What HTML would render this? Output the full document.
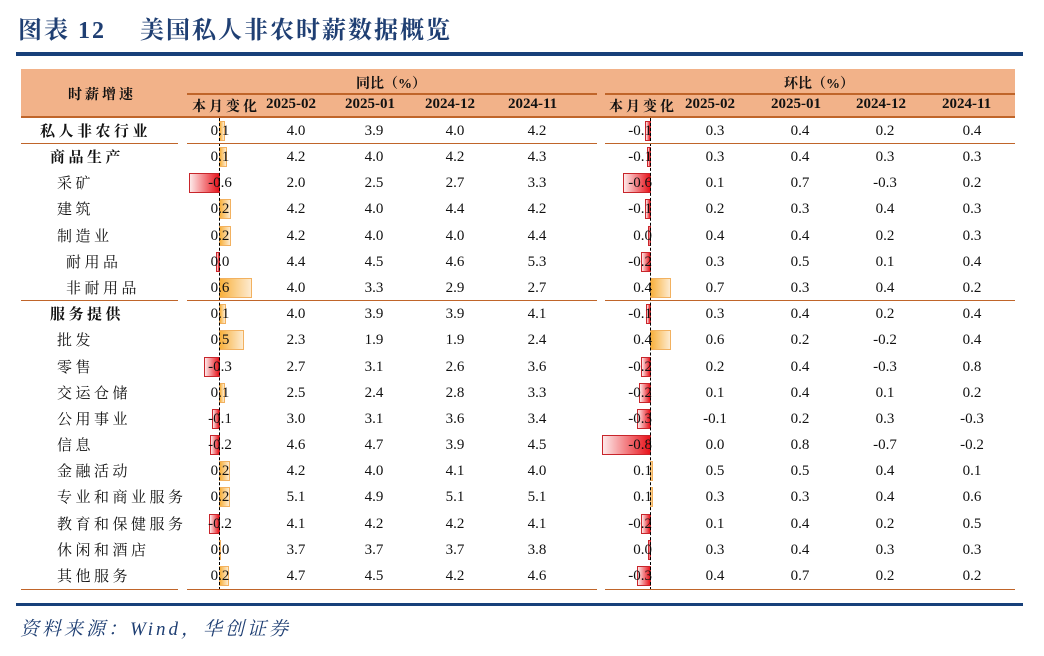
<!DOCTYPE html>
<html><head><meta charset="utf-8"><style>
*{margin:0;padding:0;box-sizing:border-box}
body{width:1044px;height:656px;background:#fff;position:relative;overflow:hidden;font-family:"Liberation Serif","Noto Serif CJK SC",serif;color:#111}
.a{position:absolute}
.title{left:18px;top:10px;font-size:24px;font-weight:bold;color:#1F3F73;font-family:"Liberation Serif","Noto Serif CJK SC",serif;letter-spacing:2px}
.hd{font-weight:bold;font-size:14px;font-family:"Liberation Serif","Noto Serif CJK SC",serif}
.sp{letter-spacing:3px}
.r{position:absolute;left:0;width:1044px;height:26px;line-height:26px;font-size:15px}
.r span{position:absolute;top:0;text-align:center;width:80px}
.c1{left:180px}.c2{left:256px}.c3{left:334px}.c4{left:415px}.c5{left:497px}
.m1{left:572px;text-align:right!important}.m2{left:675px}.m3{left:760px}.m4{left:845px}.m5{left:932px}
.r span.lb{text-align:left;width:200px;font-family:"Noto Serif CJK SC",serif;letter-spacing:3.5px}
.b{position:absolute;top:3px;height:20px}
.p{background:linear-gradient(to right,#F8B03C,#FDEBD0);border:1px solid #F2B160}
.n{background:linear-gradient(to right,#FDE9E9,#E8121A);border:1px solid #C8252B}
.ln{position:absolute;height:1px;background:#C0652A}
.dz{position:absolute;top:118px;height:472px;border-left:1.5px dashed #000}
</style></head><body>
<div class="a title">图表 12　 美国私人非农时薪数据概览</div>
<div class="a" style="left:16px;top:52px;width:1007px;height:4px;background:#17407A"></div>
<div class="a" style="left:21px;top:69px;width:994px;height:48px;background:#F2B289"></div>
<div class="ln" style="left:187px;top:93px;width:410px;height:2px"></div>
<div class="ln" style="left:605px;top:93px;width:410px;height:2px"></div>
<div class="ln" style="left:21px;top:116px;width:994px;height:2px"></div>
<div class="a hd sp" style="left:68px;top:84px">时薪增速</div>
<div class="a hd" style="left:356px;top:73px">同比（%）</div>
<div class="a hd" style="left:784px;top:73px">环比（%）</div>
<div class="a hd sp" style="left:192px;top:96px">本月变化</div>
<div class="a hd sp" style="left:609px;top:96px">本月变化</div>
<div class="a hd" style="left:266px;top:96px;font-family:'Liberation Serif',serif;font-size:15px">2025-02</div>
<div class="a hd" style="left:345px;top:96px;font-family:'Liberation Serif',serif;font-size:15px">2025-01</div>
<div class="a hd" style="left:425px;top:96px;font-family:'Liberation Serif',serif;font-size:15px">2024-12</div>
<div class="a hd" style="left:508px;top:96px;font-family:'Liberation Serif',serif;font-size:15px">2024-11</div>
<div class="a hd" style="left:685px;top:96px;font-family:'Liberation Serif',serif;font-size:15px">2025-02</div>
<div class="a hd" style="left:771px;top:96px;font-family:'Liberation Serif',serif;font-size:15px">2025-01</div>
<div class="a hd" style="left:856px;top:96px;font-family:'Liberation Serif',serif;font-size:15px">2024-12</div>
<div class="a hd" style="left:942px;top:96px;font-family:'Liberation Serif',serif;font-size:15px">2024-11</div>

<div class="r" style="top:118px"><div class="b p" style="left:219px;width:6px"></div><div class="b n" style="left:645px;width:6px"></div><span class="lb" style="left:40px;font-weight:bold">私人非农行业</span><span class="c1">0.1</span><span class="c2">4.0</span><span class="c3">3.9</span><span class="c4">4.0</span><span class="c5">4.2</span><span class="m1">-0.1</span><span class="m2">0.3</span><span class="m3">0.4</span><span class="m4">0.2</span><span class="m5">0.4</span></div>
<div class="r" style="top:144px"><div class="b p" style="left:219px;width:8px"></div><div class="b n" style="left:647px;width:4px"></div><span class="lb" style="left:50px;font-weight:bold">商品生产</span><span class="c1">0.1</span><span class="c2">4.2</span><span class="c3">4.0</span><span class="c4">4.2</span><span class="c5">4.3</span><span class="m1">-0.1</span><span class="m2">0.3</span><span class="m3">0.4</span><span class="m4">0.3</span><span class="m5">0.3</span></div>
<div class="r" style="top:170px"><div class="b n" style="left:189px;width:31px"></div><div class="b n" style="left:623px;width:28px"></div><span class="lb" style="left:57px">采矿</span><span class="c1">-0.6</span><span class="c2">2.0</span><span class="c3">2.5</span><span class="c4">2.7</span><span class="c5">3.3</span><span class="m1">-0.6</span><span class="m2">0.1</span><span class="m3">0.7</span><span class="m4">-0.3</span><span class="m5">0.2</span></div>
<div class="r" style="top:196px"><div class="b p" style="left:219px;width:12px"></div><div class="b n" style="left:645px;width:6px"></div><span class="lb" style="left:57px">建筑</span><span class="c1">0.2</span><span class="c2">4.2</span><span class="c3">4.0</span><span class="c4">4.4</span><span class="c5">4.2</span><span class="m1">-0.1</span><span class="m2">0.2</span><span class="m3">0.3</span><span class="m4">0.4</span><span class="m5">0.3</span></div>
<div class="r" style="top:223px"><div class="b p" style="left:219px;width:12px"></div><div class="b n" style="left:648px;width:3px"></div><span class="lb" style="left:57px">制造业</span><span class="c1">0.2</span><span class="c2">4.2</span><span class="c3">4.0</span><span class="c4">4.0</span><span class="c5">4.4</span><span class="m1">0.0</span><span class="m2">0.4</span><span class="m3">0.4</span><span class="m4">0.2</span><span class="m5">0.3</span></div>
<div class="r" style="top:249px"><div class="b n" style="left:216px;width:4px"></div><div class="b n" style="left:641px;width:10px"></div><span class="lb" style="left:66px">耐用品</span><span class="c1">0.0</span><span class="c2">4.4</span><span class="c3">4.5</span><span class="c4">4.6</span><span class="c5">5.3</span><span class="m1">-0.2</span><span class="m2">0.3</span><span class="m3">0.5</span><span class="m4">0.1</span><span class="m5">0.4</span></div>
<div class="r" style="top:275px"><div class="b p" style="left:219px;width:33px"></div><div class="b p" style="left:650px;width:21px"></div><span class="lb" style="left:66px">非耐用品</span><span class="c1">0.6</span><span class="c2">4.0</span><span class="c3">3.3</span><span class="c4">2.9</span><span class="c5">2.7</span><span class="m1">0.4</span><span class="m2">0.7</span><span class="m3">0.3</span><span class="m4">0.4</span><span class="m5">0.2</span></div>
<div class="r" style="top:301px"><div class="b p" style="left:219px;width:7px"></div><div class="b n" style="left:646px;width:5px"></div><span class="lb" style="left:50px;font-weight:bold">服务提供</span><span class="c1">0.1</span><span class="c2">4.0</span><span class="c3">3.9</span><span class="c4">3.9</span><span class="c5">4.1</span><span class="m1">-0.1</span><span class="m2">0.3</span><span class="m3">0.4</span><span class="m4">0.2</span><span class="m5">0.4</span></div>
<div class="r" style="top:327px"><div class="b p" style="left:219px;width:25px"></div><div class="b p" style="left:650px;width:21px"></div><span class="lb" style="left:57px">批发</span><span class="c1">0.5</span><span class="c2">2.3</span><span class="c3">1.9</span><span class="c4">1.9</span><span class="c5">2.4</span><span class="m1">0.4</span><span class="m2">0.6</span><span class="m3">0.2</span><span class="m4">-0.2</span><span class="m5">0.4</span></div>
<div class="r" style="top:354px"><div class="b n" style="left:204px;width:16px"></div><div class="b n" style="left:641px;width:10px"></div><span class="lb" style="left:57px">零售</span><span class="c1">-0.3</span><span class="c2">2.7</span><span class="c3">3.1</span><span class="c4">2.6</span><span class="c5">3.6</span><span class="m1">-0.2</span><span class="m2">0.2</span><span class="m3">0.4</span><span class="m4">-0.3</span><span class="m5">0.8</span></div>
<div class="r" style="top:380px"><div class="b p" style="left:219px;width:6px"></div><div class="b n" style="left:639px;width:12px"></div><span class="lb" style="left:57px">交运仓储</span><span class="c1">0.1</span><span class="c2">2.5</span><span class="c3">2.4</span><span class="c4">2.8</span><span class="c5">3.3</span><span class="m1">-0.2</span><span class="m2">0.1</span><span class="m3">0.4</span><span class="m4">0.1</span><span class="m5">0.2</span></div>
<div class="r" style="top:406px"><div class="b n" style="left:212px;width:8px"></div><div class="b n" style="left:637px;width:14px"></div><span class="lb" style="left:57px">公用事业</span><span class="c1">-0.1</span><span class="c2">3.0</span><span class="c3">3.1</span><span class="c4">3.6</span><span class="c5">3.4</span><span class="m1">-0.3</span><span class="m2">-0.1</span><span class="m3">0.2</span><span class="m4">0.3</span><span class="m5">-0.3</span></div>
<div class="r" style="top:432px"><div class="b n" style="left:210px;width:10px"></div><div class="b n" style="left:602px;width:49px"></div><span class="lb" style="left:57px">信息</span><span class="c1">-0.2</span><span class="c2">4.6</span><span class="c3">4.7</span><span class="c4">3.9</span><span class="c5">4.5</span><span class="m1">-0.8</span><span class="m2">0.0</span><span class="m3">0.8</span><span class="m4">-0.7</span><span class="m5">-0.2</span></div>
<div class="r" style="top:458px"><div class="b p" style="left:219px;width:11px"></div><div class="b p" style="left:650px;width:3px"></div><span class="lb" style="left:57px">金融活动</span><span class="c1">0.2</span><span class="c2">4.2</span><span class="c3">4.0</span><span class="c4">4.1</span><span class="c5">4.0</span><span class="m1">0.1</span><span class="m2">0.5</span><span class="m3">0.5</span><span class="m4">0.4</span><span class="m5">0.1</span></div>
<div class="r" style="top:484px"><div class="b p" style="left:219px;width:11px"></div><div class="b p" style="left:650px;width:3px"></div><span class="lb" style="left:57px">专业和商业服务</span><span class="c1">0.2</span><span class="c2">5.1</span><span class="c3">4.9</span><span class="c4">5.1</span><span class="c5">5.1</span><span class="m1">0.1</span><span class="m2">0.3</span><span class="m3">0.3</span><span class="m4">0.4</span><span class="m5">0.6</span></div>
<div class="r" style="top:511px"><div class="b n" style="left:209px;width:11px"></div><div class="b n" style="left:641px;width:10px"></div><span class="lb" style="left:57px">教育和保健服务</span><span class="c1">-0.2</span><span class="c2">4.1</span><span class="c3">4.2</span><span class="c4">4.2</span><span class="c5">4.1</span><span class="m1">-0.2</span><span class="m2">0.1</span><span class="m3">0.4</span><span class="m4">0.2</span><span class="m5">0.5</span></div>
<div class="r" style="top:537px"><div class="b p" style="left:219px;width:2px"></div><div class="b n" style="left:648px;width:3px"></div><span class="lb" style="left:57px">休闲和酒店</span><span class="c1">0.0</span><span class="c2">3.7</span><span class="c3">3.7</span><span class="c4">3.7</span><span class="c5">3.8</span><span class="m1">0.0</span><span class="m2">0.3</span><span class="m3">0.4</span><span class="m4">0.3</span><span class="m5">0.3</span></div>
<div class="r" style="top:563px"><div class="b p" style="left:219px;width:10px"></div><div class="b n" style="left:637px;width:14px"></div><span class="lb" style="left:57px">其他服务</span><span class="c1">0.2</span><span class="c2">4.7</span><span class="c3">4.5</span><span class="c4">4.2</span><span class="c5">4.6</span><span class="m1">-0.3</span><span class="m2">0.4</span><span class="m3">0.7</span><span class="m4">0.2</span><span class="m5">0.2</span></div>

<div class="dz" style="left:219px"></div>
<div class="dz" style="left:650px"></div>

<div class="ln" style="left:21px;top:143px;width:157px"></div>
<div class="ln" style="left:187px;top:143px;width:410px"></div>
<div class="ln" style="left:605px;top:143px;width:410px"></div>
<div class="ln" style="left:21px;top:300px;width:157px"></div>
<div class="ln" style="left:187px;top:300px;width:410px"></div>
<div class="ln" style="left:605px;top:300px;width:410px"></div>
<div class="ln" style="left:21px;top:589px;width:157px"></div>
<div class="ln" style="left:187px;top:589px;width:410px"></div>
<div class="ln" style="left:605px;top:589px;width:410px"></div>

<div class="a" style="left:16px;top:603px;width:1007px;height:3px;background:#17407A"></div>
<div class="a" style="left:20px;top:614px;font-size:19px;font-style:italic;color:#1F3F73;letter-spacing:3px;font-family:'Liberation Serif','Noto Serif CJK SC',serif">资料来源：Wind，华创证券</div>
</body></html>
